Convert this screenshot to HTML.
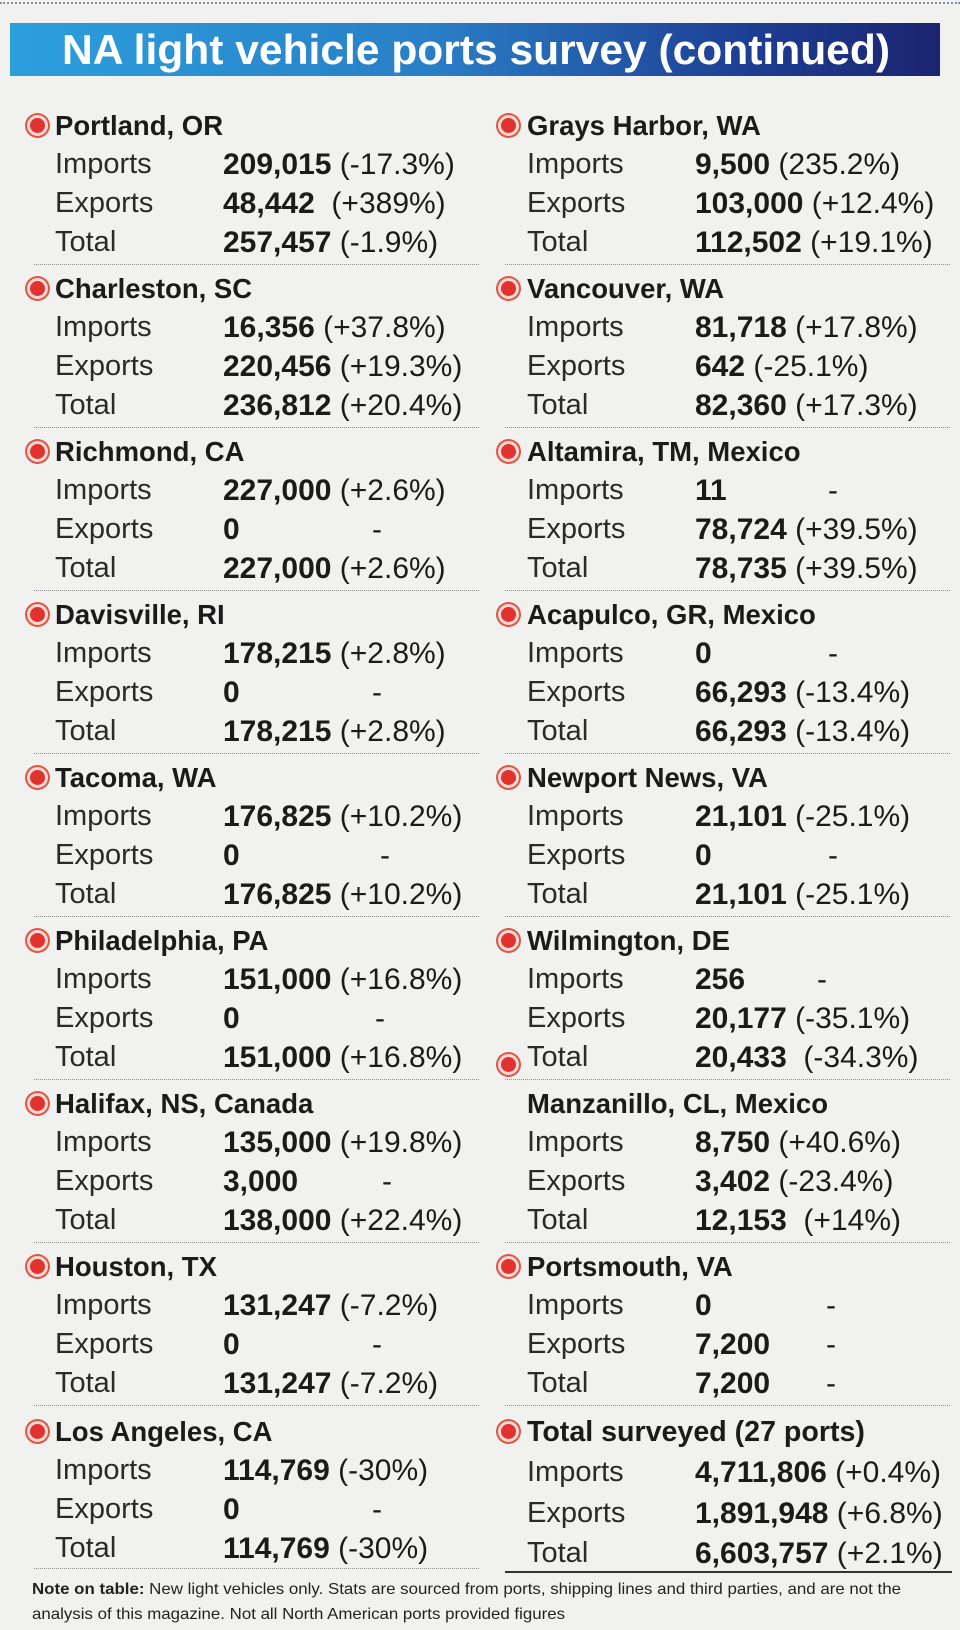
<!DOCTYPE html>
<html><head><meta charset="utf-8"><style>
body{margin:0;width:960px;height:1626px;background:#f1f2f0;position:relative;overflow:hidden;font-family:"Liberation Sans",sans-serif;color:#1b1b1b}
.top{position:absolute;left:0;top:2px;width:960px;border-top:2px dotted #8a8fa8}
.title{position:absolute;left:10px;top:23px;width:930px;height:53px;background:linear-gradient(90deg,#2b9fdc 0%,#2a7fc6 45%,#1d3d92 80%,#1b2470 100%)}
.blk{position:absolute;width:470px;height:163px}
.r{position:absolute;height:39px;line-height:39px;white-space:nowrap}
.h{font-weight:bold;font-size:27.5px}
.l{font-size:29px;color:#2a2a2a}
.v{font-size:30px}
.v b{font-weight:bold}
.d{position:absolute;top:0}
.bul{position:absolute;width:15px;height:15px;border-radius:50%;background:#e0332f;border:3px solid #f8d9d6;box-shadow:0 0 0 2px #e0553f}
.sep{position:absolute;height:0;border-top:1.5px dotted #8d8d8d}
.note{position:absolute;left:32px;font-size:16px;color:#222;white-space:nowrap}
</style></head><body>
<div class="top"></div>
<div class="title"><svg width="930" height="53"><text x="52" y="41" font-family="Liberation Sans Narrow, Liberation Sans, sans-serif" font-weight="bold" font-size="42" fill="#fff" textLength="828" lengthAdjust="spacingAndGlyphs">NA light vehicle ports survey (continued)</text></svg></div>

<!-- LEFT COLUMN -->
<div class="blk" style="left:0;top:106px">
<div class="bul" style="left:27px;top:9px"></div>
<div class="r h" style="left:55px;top:0">Portland, OR</div>
<div class="r l" style="left:55px;top:39px">Imports</div><div class="r v" style="left:223px;top:39px"><b>209,015</b> (-17.3%)</div>
<div class="r l" style="left:55px;top:78px">Exports</div><div class="r v" style="left:223px;top:78px"><b>48,442</b> &nbsp;(+389%)</div>
<div class="r l" style="left:55px;top:117px">Total</div><div class="r v" style="left:223px;top:117px"><b>257,457</b> (-1.9%)</div>
<div class="sep" style="left:34px;width:445px;top:158px"></div></div>

<div class="blk" style="left:0;top:269px">
<div class="bul" style="left:27px;top:9px"></div>
<div class="r h" style="left:55px;top:0">Charleston, SC</div>
<div class="r l" style="left:55px;top:39px">Imports</div><div class="r v" style="left:223px;top:39px"><b>16,356</b> (+37.8%)</div>
<div class="r l" style="left:55px;top:78px">Exports</div><div class="r v" style="left:223px;top:78px"><b>220,456</b> (+19.3%)</div>
<div class="r l" style="left:55px;top:117px">Total</div><div class="r v" style="left:223px;top:117px"><b>236,812</b> (+20.4%)</div>
<div class="sep" style="left:34px;width:445px;top:158px"></div></div>

<div class="blk" style="left:0;top:432px">
<div class="bul" style="left:27px;top:9px"></div>
<div class="r h" style="left:55px;top:0">Richmond, CA</div>
<div class="r l" style="left:55px;top:39px">Imports</div><div class="r v" style="left:223px;top:39px"><b>227,000</b> (+2.6%)</div>
<div class="r l" style="left:55px;top:78px">Exports</div><div class="r v" style="left:223px;top:78px"><b>0</b></div><div class="r v" style="left:372px;top:78px">-</div>
<div class="r l" style="left:55px;top:117px">Total</div><div class="r v" style="left:223px;top:117px"><b>227,000</b> (+2.6%)</div>
<div class="sep" style="left:34px;width:445px;top:158px"></div></div>

<div class="blk" style="left:0;top:595px">
<div class="bul" style="left:27px;top:9px"></div>
<div class="r h" style="left:55px;top:0">Davisville, RI</div>
<div class="r l" style="left:55px;top:39px">Imports</div><div class="r v" style="left:223px;top:39px"><b>178,215</b> (+2.8%)</div>
<div class="r l" style="left:55px;top:78px">Exports</div><div class="r v" style="left:223px;top:78px"><b>0</b></div><div class="r v" style="left:372px;top:78px">-</div>
<div class="r l" style="left:55px;top:117px">Total</div><div class="r v" style="left:223px;top:117px"><b>178,215</b> (+2.8%)</div>
<div class="sep" style="left:34px;width:445px;top:158px"></div></div>

<div class="blk" style="left:0;top:758px">
<div class="bul" style="left:27px;top:9px"></div>
<div class="r h" style="left:55px;top:0">Tacoma, WA</div>
<div class="r l" style="left:55px;top:39px">Imports</div><div class="r v" style="left:223px;top:39px"><b>176,825</b> (+10.2%)</div>
<div class="r l" style="left:55px;top:78px">Exports</div><div class="r v" style="left:223px;top:78px"><b>0</b></div><div class="r v" style="left:380px;top:78px">-</div>
<div class="r l" style="left:55px;top:117px">Total</div><div class="r v" style="left:223px;top:117px"><b>176,825</b> (+10.2%)</div>
<div class="sep" style="left:34px;width:445px;top:158px"></div></div>

<div class="blk" style="left:0;top:921px">
<div class="bul" style="left:27px;top:9px"></div>
<div class="r h" style="left:55px;top:0">Philadelphia, PA</div>
<div class="r l" style="left:55px;top:39px">Imports</div><div class="r v" style="left:223px;top:39px"><b>151,000</b> (+16.8%)</div>
<div class="r l" style="left:55px;top:78px">Exports</div><div class="r v" style="left:223px;top:78px"><b>0</b></div><div class="r v" style="left:375px;top:78px">-</div>
<div class="r l" style="left:55px;top:117px">Total</div><div class="r v" style="left:223px;top:117px"><b>151,000</b> (+16.8%)</div>
<div class="sep" style="left:34px;width:445px;top:158px"></div></div>

<div class="blk" style="left:0;top:1084px">
<div class="bul" style="left:27px;top:9px"></div>
<div class="r h" style="left:55px;top:0">Halifax, NS, Canada</div>
<div class="r l" style="left:55px;top:39px">Imports</div><div class="r v" style="left:223px;top:39px"><b>135,000</b> (+19.8%)</div>
<div class="r l" style="left:55px;top:78px">Exports</div><div class="r v" style="left:223px;top:78px"><b>3,000</b></div><div class="r v" style="left:382px;top:78px">-</div>
<div class="r l" style="left:55px;top:117px">Total</div><div class="r v" style="left:223px;top:117px"><b>138,000</b> (+22.4%)</div>
<div class="sep" style="left:34px;width:445px;top:158px"></div></div>

<div class="blk" style="left:0;top:1247px">
<div class="bul" style="left:27px;top:9px"></div>
<div class="r h" style="left:55px;top:0">Houston, TX</div>
<div class="r l" style="left:55px;top:39px">Imports</div><div class="r v" style="left:223px;top:39px"><b>131,247</b> (-7.2%)</div>
<div class="r l" style="left:55px;top:78px">Exports</div><div class="r v" style="left:223px;top:78px"><b>0</b></div><div class="r v" style="left:372px;top:78px">-</div>
<div class="r l" style="left:55px;top:117px">Total</div><div class="r v" style="left:223px;top:117px"><b>131,247</b> (-7.2%)</div>
<div class="sep" style="left:34px;width:445px;top:158px"></div></div>

<div class="blk" style="left:0;top:1412px">
<div class="bul" style="left:27px;top:9px"></div>
<div class="r h" style="left:55px;top:0">Los Angeles, CA</div>
<div class="r l" style="left:55px;top:39px">Imports</div><div class="r v" style="left:223px;top:39px"><b>114,769</b> (-30%)</div>
<div class="r l" style="left:55px;top:78px">Exports</div><div class="r v" style="left:223px;top:78px"><b>0</b></div><div class="r v" style="left:372px;top:78px">-</div>
<div class="r l" style="left:55px;top:117px">Total</div><div class="r v" style="left:223px;top:117px"><b>114,769</b> (-30%)</div>
<div class="sep" style="left:34px;width:445px;top:156px"></div></div>

<!-- RIGHT COLUMN -->
<div class="blk" style="left:0;top:106px">
<div class="bul" style="left:498px;top:9px"></div>
<div class="r h" style="left:527px;top:0">Grays Harbor, WA</div>
<div class="r l" style="left:527px;top:39px">Imports</div><div class="r v" style="left:695px;top:39px"><b>9,500</b> (235.2%)</div>
<div class="r l" style="left:527px;top:78px">Exports</div><div class="r v" style="left:695px;top:78px"><b>103,000</b> (+12.4%)</div>
<div class="r l" style="left:527px;top:117px">Total</div><div class="r v" style="left:695px;top:117px"><b>112,502</b> (+19.1%)</div>
<div class="sep" style="left:505px;width:445px;top:158px"></div></div>

<div class="blk" style="left:0;top:269px">
<div class="bul" style="left:498px;top:9px"></div>
<div class="r h" style="left:527px;top:0">Vancouver, WA</div>
<div class="r l" style="left:527px;top:39px">Imports</div><div class="r v" style="left:695px;top:39px"><b>81,718</b> (+17.8%)</div>
<div class="r l" style="left:527px;top:78px">Exports</div><div class="r v" style="left:695px;top:78px"><b>642</b> (-25.1%)</div>
<div class="r l" style="left:527px;top:117px">Total</div><div class="r v" style="left:695px;top:117px"><b>82,360</b> (+17.3%)</div>
<div class="sep" style="left:505px;width:445px;top:158px"></div></div>

<div class="blk" style="left:0;top:432px">
<div class="bul" style="left:498px;top:9px"></div>
<div class="r h" style="left:527px;top:0">Altamira, TM, Mexico</div>
<div class="r l" style="left:527px;top:39px">Imports</div><div class="r v" style="left:695px;top:39px"><b>11</b></div><div class="r v" style="left:828px;top:39px">-</div>
<div class="r l" style="left:527px;top:78px">Exports</div><div class="r v" style="left:695px;top:78px"><b>78,724</b> (+39.5%)</div>
<div class="r l" style="left:527px;top:117px">Total</div><div class="r v" style="left:695px;top:117px"><b>78,735</b> (+39.5%)</div>
<div class="sep" style="left:505px;width:445px;top:158px"></div></div>

<div class="blk" style="left:0;top:595px">
<div class="bul" style="left:498px;top:9px"></div>
<div class="r h" style="left:527px;top:0">Acapulco, GR, Mexico</div>
<div class="r l" style="left:527px;top:39px">Imports</div><div class="r v" style="left:695px;top:39px"><b>0</b></div><div class="r v" style="left:828px;top:39px">-</div>
<div class="r l" style="left:527px;top:78px">Exports</div><div class="r v" style="left:695px;top:78px"><b>66,293</b> (-13.4%)</div>
<div class="r l" style="left:527px;top:117px">Total</div><div class="r v" style="left:695px;top:117px"><b>66,293</b> (-13.4%)</div>
<div class="sep" style="left:505px;width:445px;top:158px"></div></div>

<div class="blk" style="left:0;top:758px">
<div class="bul" style="left:498px;top:9px"></div>
<div class="r h" style="left:527px;top:0">Newport News, VA</div>
<div class="r l" style="left:527px;top:39px">Imports</div><div class="r v" style="left:695px;top:39px"><b>21,101</b> (-25.1%)</div>
<div class="r l" style="left:527px;top:78px">Exports</div><div class="r v" style="left:695px;top:78px"><b>0</b></div><div class="r v" style="left:828px;top:78px">-</div>
<div class="r l" style="left:527px;top:117px">Total</div><div class="r v" style="left:695px;top:117px"><b>21,101</b> (-25.1%)</div>
<div class="sep" style="left:505px;width:445px;top:158px"></div></div>

<div class="blk" style="left:0;top:921px">
<div class="bul" style="left:498px;top:9px"></div>
<div class="r h" style="left:527px;top:0">Wilmington, DE</div>
<div class="r l" style="left:527px;top:39px">Imports</div><div class="r v" style="left:695px;top:39px"><b>256</b></div><div class="r v" style="left:817px;top:39px">-</div>
<div class="r l" style="left:527px;top:78px">Exports</div><div class="r v" style="left:695px;top:78px"><b>20,177</b> (-35.1%)</div>
<div class="bul" style="left:498px;top:133px"></div>
<div class="r l" style="left:527px;top:117px">Total</div><div class="r v" style="left:695px;top:117px"><b>20,433</b> &nbsp;(-34.3%)</div>
<div class="sep" style="left:505px;width:445px;top:158px"></div></div>

<div class="blk" style="left:0;top:1084px">
<div class="r h" style="left:527px;top:0">Manzanillo, CL, Mexico</div>
<div class="r l" style="left:527px;top:39px">Imports</div><div class="r v" style="left:695px;top:39px"><b>8,750</b> (+40.6%)</div>
<div class="r l" style="left:527px;top:78px">Exports</div><div class="r v" style="left:695px;top:78px"><b>3,402</b> (-23.4%)</div>
<div class="r l" style="left:527px;top:117px">Total</div><div class="r v" style="left:695px;top:117px"><b>12,153</b> &nbsp;(+14%)</div>
<div class="sep" style="left:505px;width:445px;top:158px"></div></div>

<div class="blk" style="left:0;top:1247px">
<div class="bul" style="left:498px;top:9px"></div>
<div class="r h" style="left:527px;top:0">Portsmouth, VA</div>
<div class="r l" style="left:527px;top:39px">Imports</div><div class="r v" style="left:695px;top:39px"><b>0</b></div><div class="r v" style="left:826px;top:39px">-</div>
<div class="r l" style="left:527px;top:78px">Exports</div><div class="r v" style="left:695px;top:78px"><b>7,200</b></div><div class="r v" style="left:826px;top:78px">-</div>
<div class="r l" style="left:527px;top:117px">Total</div><div class="r v" style="left:695px;top:117px"><b>7,200</b></div><div class="r v" style="left:826px;top:117px">-</div>
<div class="sep" style="left:505px;width:445px;top:158px"></div></div>

<div class="blk" style="left:0;top:1413px">
<div class="bul" style="left:498px;top:8px"></div>
<div class="r h" style="left:527px;top:0;font-size:28.6px">Total surveyed (27 ports)</div>
<div class="r l" style="left:527px;top:40px">Imports</div><div class="r v" style="left:695px;top:40px"><b>4,711,806</b> (+0.4%)</div>
<div class="r l" style="left:527px;top:81px">Exports</div><div class="r v" style="left:695px;top:81px"><b>1,891,948</b> (+6.8%)</div>
<div class="r l" style="left:527px;top:121px">Total</div><div class="r v" style="left:695px;top:121px"><b>6,603,757</b> (+2.1%)</div>
</div>
<div style="position:absolute;left:505px;width:447px;top:1571px;border-top:2px solid #333"></div>

<div class="note" style="top:1578px"><svg width="900" height="22"><text x="0" y="16" font-family="Liberation Sans Narrow, Liberation Sans, sans-serif" font-size="16" fill="#222" textLength="869" lengthAdjust="spacingAndGlyphs"><tspan font-weight="bold">Note on table:</tspan> New light vehicles only. Stats are sourced from ports, shipping lines and third parties, and are not the</text></svg></div>
<div class="note" style="top:1603px"><svg width="900" height="22"><text x="0" y="16" font-family="Liberation Sans Narrow, Liberation Sans, sans-serif" font-size="16" fill="#222" textLength="533" lengthAdjust="spacingAndGlyphs">analysis of this magazine. Not all North American ports provided figures</text></svg></div>
</body></html>
